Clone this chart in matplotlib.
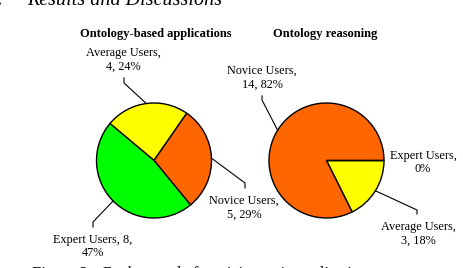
import numpy as np
import matplotlib

matplotlib.use("Agg")
import matplotlib.pyplot as plt

# data
categories = ["Average Users", "Novice Users", "Expert Users"]
applications = [4, 5, 8]
reasoning = [3, 14, 0]
titles = ["Ontology-based applications", "Ontology reasoning"]
slice_colors = ["#ffff00", "#ff6600", "#00ff00"]

plt.rcParams["font.family"] = ["Liberation Serif", "DejaVu Serif"]

fig = plt.figure(figsize=(4.64, 2.68), dpi=100)
ax = fig.add_axes([0, 0, 1, 1])


def label_text(name, value, pct, style):
    if value == 0:
        return f"{name},\n{pct}%"
    if style == "split_after_value":
        return f"{name}, {value},\n{pct}%"
    return f"{name},\n{value}, {pct}%"


def draw_pie(values, center, start, layout):
    radius = 57.5
    wedges, _ = ax.pie(
        values,
        colors=slice_colors,
        startangle=start,
        counterclock=False,
        center=center,
        radius=radius,
        wedgeprops=dict(edgecolor="black", linewidth=1.0),
    )
    total = sum(values)
    for w, name, v in zip(wedges, categories, values):
        pct = round(100 * v / total)
        tx, ty, elbow, tick, style = layout[name]
        ax.text(tx, ty, label_text(name, v, pct, style), ha="center",
                va="center", fontsize=8.8, linespacing=1.2)
        if elbow is None:
            continue
        mid = np.deg2rad((w.theta1 + w.theta2) / 2)
        ex = center[0] + radius * np.cos(mid)
        ey = center[1] + radius * np.sin(mid)
        ax.plot([ex, elbow[0], elbow[0]], [ey, elbow[1], tick],
                color="black", lw=0.8)


left_layout = {
    "Average Users": (123, 208.5, (124, 185), 190, ""),
    "Novice Users": (244, 60.5, (245, 85), 80, ""),
    "Expert Users": (93, 21.5, (93, 46), 41, "split_after_value"),
}
right_layout = {
    "Average Users": (418, 34, (417, 58), 54, ""),
    "Novice Users": (262, 190, (262, 168), 172, ""),
    "Expert Users": (423, 105.5, None, None, ""),
}

draw_pie(applications, (154, 107.5), 140, left_layout)
draw_pie(reasoning, (326.5, 107.5), 0, right_layout)

ax.text(156, 234, titles[0], ha="center", va="center", fontsize=9,
        fontweight="bold")
ax.text(325, 234, titles[1], ha="center", va="center", fontsize=9,
        fontweight="bold")

# surrounding page text, partly cut off
ax.text(4, 263, "V.", ha="right", va="baseline", fontsize=14.5,
        style="italic", clip_on=False)
ax.text(27, 263, "Results and Discussions", ha="left", va="baseline",
        fontsize=14.5, style="italic", clip_on=False)
ax.text(32, -10, "Figure 2.", ha="left", va="baseline", fontsize=12,
        clip_on=False)
ax.text(103, -10, "Background of participants in applications", ha="left",
        va="baseline", fontsize=11.5, clip_on=False)

ax.set_xlim(0, 464)
ax.set_ylim(0, 268)
ax.set_aspect("auto")
ax.set_axis_off()

fig.savefig("out.png", dpi=100)
